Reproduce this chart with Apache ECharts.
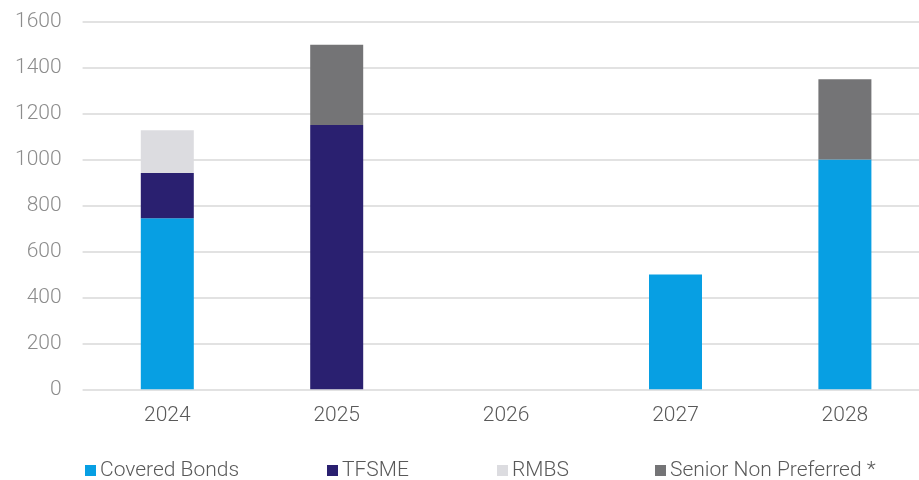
<!DOCTYPE html>
<html><head><meta charset="utf-8">
<script src="https://cdn.jsdelivr.net/npm/echarts@6/dist/echarts.min.js"></script>
<style>html,body{margin:0;padding:0;background:#fff}#c{width:919px;height:480px}</style>
</head><body><div id="c"></div>
<script>
const categories = ['2024','2025','2026','2027','2028'];
const coveredBonds = [745, 0, 0, 500, 1000];
const tfsme = [197, 1150, 0, 0, 0];
const rmbs = [185, 0, 0, 0, 0];
const seniorNonPreferred = [0, 350, 0, 0, 350];
const yTicks = [0, 200, 400, 600, 800, 1000, 1200, 1400, 1600];

const names = ['Covered Bonds','TFSME','RMBS','Senior Non Preferred *'];
const colors = ['#079FE3','#2A2070','#DCDCE0','#747476'];
const data = [coveredBonds, tfsme, rmbs, seniorNonPreferred];
const legendLeft = [85, 327, 497, 655];

const chart = echarts.init(document.getElementById('c'));
chart.setOption({
  animation: false,
  textStyle: {fontFamily: 'Roboto', fontWeight: 300},
  grid: {left: 82.6, width: 847, top: 21.7, bottom: 90.7, containLabel: false, outerBoundsMode: 'none'},
  legend: names.map((n, i) => ({
    left: legendLeft[i], top: 460, itemWidth: 11, itemHeight: 11, padding: 0,
    icon: 'rect',
    textStyle: {fontSize: 21, color: '#595959', fontFamily: 'Roboto', fontWeight: 300, padding: [0,0,0,-1]},
    data: [n]
  })),
  xAxis: {
    type: 'category', data: categories,
    axisLine: {show: false}, axisTick: {show: false},
    axisLabel: {fontSize: 21, color: '#595959', margin: 16, fontFamily: 'Roboto', fontWeight: 300}
  },
  yAxis: {
    type: 'value', min: yTicks[0], max: yTicks[yTicks.length-1], interval: 200,
    axisLine: {show: false}, axisTick: {show: false},
    axisLabel: {fontSize: 21, color: '#8c8c8c', margin: 21, fontFamily: 'Roboto', fontWeight: 300,
      formatter: v => String(v)},
    splitLine: {lineStyle: {color: '#e2e2e2', width: 2}}
  },
  series: names.map((n, i) => ({
    name: n, type: 'bar', stack: 'a', barWidth: 53,
    itemStyle: {color: colors[i]},
    data: data[i]
  }))
});
</script></body></html>
